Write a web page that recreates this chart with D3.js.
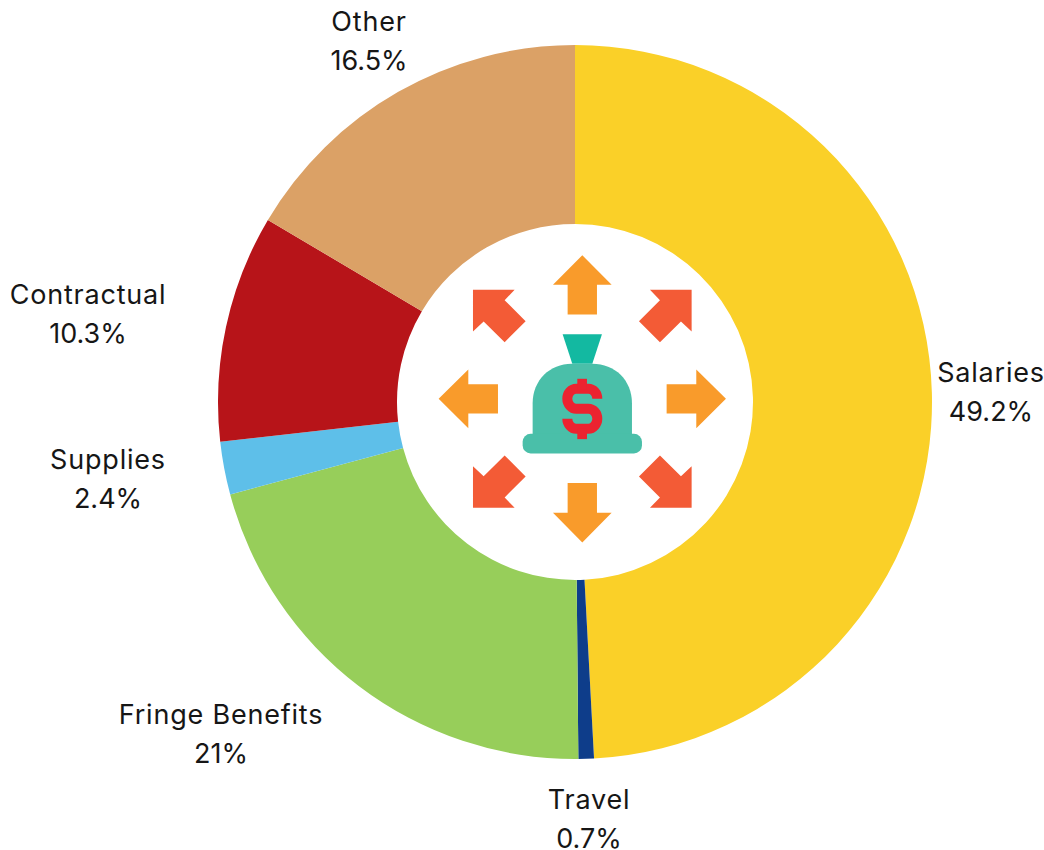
<!DOCTYPE html>
<html>
<head>
<meta charset="utf-8">
<style>
  html, body { margin: 0; padding: 0; background: #fff; }
  svg { display: block; }
  .label { font-family: "Inter", sans-serif; font-size: 27px; fill: #161616; text-anchor: middle; }
  .name { letter-spacing: 0.8px; }
</style>
</head>
<body>
<script src="https://cdn.jsdelivr.net/npm/d3@7"></script>
<script>
var categories = ["Salaries", "Travel", "Fringe Benefits", "Supplies", "Contractual", "Other"];
var shares = [49.2, 0.7, 21, 2.4, 10.3, 16.5];
var shareLabels = ["49.2%", "0.7%", "21%", "2.4%", "10.3%", "16.5%"];
var sliceColors = ["#fad028", "#0e3d8a", "#97ce5a", "#5ebfe9", "#b71419", "#dba166"];
// label centres, first line baseline
var labelX = [991, 589, 221, 108, 88, 369];
var labelY = [382, 809, 724, 469, 304, 31];

var width = 1044, height = 850;
var cx = 575, cy = 402;

var svg = d3.select("body").append("svg")
    .attr("width", width).attr("height", height);

var slices = d3.pie().sort(null).value(function(d){return d;})(shares);
var segments = d3.arc().innerRadius(178).outerRadius(357);

svg.append("g").attr("transform", "translate(" + cx + "," + cy + ")")
    .selectAll("path").data(slices)
    .enter().append("path")
    .attr("d", segments)
    .attr("fill", function(d,i){return sliceColors[i];});

var labels = svg.append("g").selectAll("text").data(categories)
    .enter().append("text").classed("label", true)
    .attr("y", function(d,i){return labelY[i];});
labels.append("tspan").classed("name", true)
    .attr("x", function(d,i){return labelX[i];})
    .text(function(d){return d;});
labels.append("tspan")
    .attr("x", function(d,i){return labelX[i];})
    .attr("dy", 39)
    .text(function(d,i){return shareLabels[i];});

// money bag icon, drawn in its own units around the middle of the ring
var icon = svg.append("g").attr("transform", "translate(582.3,398.8) scale(0.3333)");

var straightArrow = "M0,-431L88,-342H44V-253H-44V-342H-88Z";
icon.selectAll(".straight").data([0, 90, 180, 270])
    .enter().append("path").classed("straight", true)
    .attr("d", straightArrow)
    .attr("fill", "#f99b2b")
    .attr("transform", function(d){return "rotate(" + d + ")";});

var cornerArrow = "M328,-327H203L233,-296L170,-233L233,-170L296,-232L328,-202Z";
icon.selectAll(".corner").data([[1,1],[-1,1],[1,-1],[-1,-1]])
    .enter().append("path").classed("corner", true)
    .attr("d", cornerArrow)
    .attr("fill", "#f35b36")
    .attr("transform", function(d){return "scale(" + d[0] + "," + d[1] + ")";});

icon.append("path")
    .attr("d", "M-59,-194H59L30,-105H-30Z")
    .attr("fill", "#13b9a1");
icon.append("path")
    .attr("d", "M-149,106V14C-149,-56 -97,-105 -32,-105H30C98,-105 149,-56 149,14V106Z")
    .attr("fill", "#4abfa9");
icon.append("rect")
    .attr("x", -179).attr("y", 105).attr("width", 358).attr("height", 59).attr("rx", 24)
    .attr("fill", "#4abfa9");

icon.append("path")
    .attr("d", "M45,0C45,-17 33,-30 18,-30H-18C-33,-30 -45,-17 -45,0C-45,15 -33,30 -18,30H18C33,30 45,43 45,60C45,75 33,90 18,90H-18C-33,90 -45,75 -45,60")
    .attr("fill", "none").attr("stroke", "#ec2330").attr("stroke-width", 30);
icon.selectAll(".nub").data([-60, 90])
    .enter().append("rect").classed("nub", true)
    .attr("x", -15).attr("y", function(d){return d;}).attr("width", 29).attr("height", 31)
    .attr("fill", "#ec2330");
</script>
</body>
</html>
